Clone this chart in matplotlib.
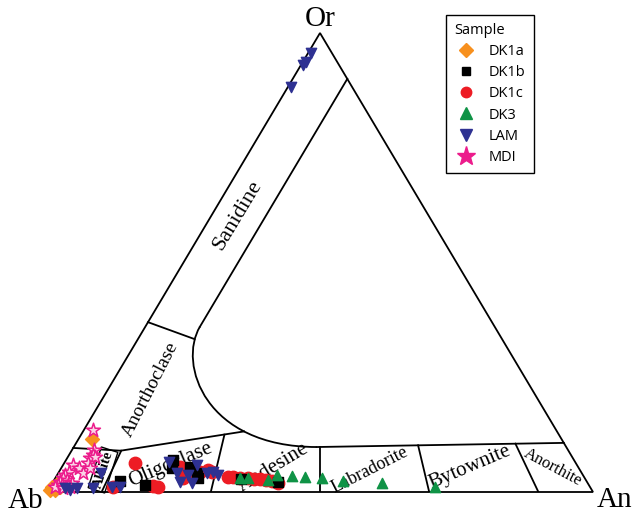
import matplotlib
matplotlib.use("Agg")
import matplotlib.pyplot as plt
from matplotlib.path import Path
from matplotlib.patches import PathPatch
from matplotlib.lines import Line2D
import numpy as np

# feldspar compositions, mol%: An and Or (Ab = 100 - An - Or)
dk1a_an = [2.5, 0.35, 1.25, 0.35, 1.85, 1.0]
dk1a_or = [11.5, 1.1, 0.4, 0.4, 1.1, 2.0]

dk1b_an = [12.2, 17.2, 19.6, 20.3, 23.5, 25.45, 26.2, 34.1, 41.2]
dk1b_or = [2.4, 1.5, 7.0, 5.2, 5.4, 4.1, 3.05, 2.8, 2.2]

dk1c_an = [12.95, 11.55, 18.75, 19.75, 21.7, 23.4, 23.4, 25.8, 27.1, 28.0,
           31.5, 32.45, 33.8, 35.3, 36.5, 37.6, 38.8, 40.0, 41.3]
dk1c_or = [6.3, 1.1, 1.3, 1.1, 5.4, 3.05, 4.4, 4.4, 4.8, 4.4,
           3.3, 3.3, 3.05, 3.05, 2.8, 2.8, 2.6, 2.4, 2.0]

dk3_an = [33.8, 35.3, 39.2, 40.25, 43.15, 45.6, 48.85, 53.0, 60.35, 70.5]
dk3_or = [3.05, 3.05, 2.6, 3.7, 3.5, 3.3, 3.05, 2.4, 2.0, 1.1]

lam_an = [0.55, 0.5, 0.3, 0.6, 2.9, 4.0, 5.0, 8.0, 7.8, 11.35, 12.8,
          19.1, 21.8, 23.3, 24.0, 25.6, 24.5, 27.3, 28.2, 29.5]
lam_or = [95.6, 93.7, 93.0, 88.2, 0.9, 0.4, 0.9, 0.9, 4.1, 1.1, 1.1,
          6.5, 4.1, 2.2, 3.7, 2.0, 5.9, 4.1, 4.4, 3.7]

mdi_an = [1.7, 4.0, 4.35, 4.2, 5.0, 4.35, 1.8, 3.25, 4.55, 5.3, 1.8,
          1.45, 1.4, 2.35, 1.3, 1.25, 2.0, 3.1, 3.6, 0.9, 2.45, 3.65]
mdi_or = [13.5, 9.15, 8.1, 7.4, 7.6, 6.3, 5.9, 5.2, 4.1, 5.2, 4.4,
          3.7, 3.05, 2.6, 2.2, 1.5, 1.5, 1.5, 2.0, 1.1, 0.9, 1.1]

# plagioclase field limits, An/(An+Ab)
plag_ratios = [0.1, 0.3, 0.5, 0.7, 0.9]
plag_top_or = [9.0, 12.5, 9.85, 10.17, 10.52]


def tern(an, orr):
    an = np.asarray(an, dtype=float) / 100.0
    orr = np.asarray(orr, dtype=float) / 100.0
    return an + orr / 2.0, orr


def pix(x, y):
    # reference pixel -> axes data
    return (x - 47) / 546.0, (492 - y) / 459.0


fig = plt.figure(figsize=(6.33, 5.15), dpi=100)
ax = fig.add_axes([47 / 633, 23 / 515, 546 / 633, 459 / 515])
ax.set_xlim(0, 1)
ax.set_ylim(0, 1)
ax.axis("off")

lw = 1.3
# triangle
x, y = tern([0, 100, 0, 0], [0, 0, 100, 0])
ax.plot(x, y, color="black", lw=lw, clip_on=False, solid_joinstyle="miter")

# sanidine inner limit + solvus curve
x, y = tern([10, 10], [90, 36])
ax.plot(x, y, color="black", lw=lw)
cx, cy = tern([10, 10, 24, 44.5], [36, 27.9, 9.8, 9.8])
curve = Path(np.column_stack([cx, cy]),
             [Path.MOVETO, Path.CURVE4, Path.CURVE4, Path.CURVE4])
ax.add_patch(PathPatch(curve, facecolor="none", edgecolor="black", lw=lw))
x, y = tern([44.5, 89.3], [9.8, 10.7])
ax.plot(x, y, color="black", lw=lw)

# anorthoclase limits
x, y = tern([0, 10.4], [37, 33.3])
ax.plot(x, y, color="black", lw=lw)
x, y = tern([0, 9, 29.5], [9.6, 9, 13.2])
ax.plot(x, y, color="black", lw=lw)

# plagioclase divisions
for r, o in zip(plag_ratios, plag_top_or):
    x, y = tern([r * 100, r * (100 - o)], [0, o])
    ax.plot(x, y, color="black", lw=lw)

serif = "Liberation Serif"
labels = [("Sanidine", 238, 215, 59, 16),
          ("Anorthoclase", 150, 390, 63, 14),
          ("Oligoclase", 170, 465, 23, 15),
          ("Andesine", 273, 468, 31, 15),
          ("Labradorite", 370, 470, 27, 13),
          ("Bytownite", 470, 467, 23, 15),
          ("Anorthite", 553, 467, -28, 12)]
for txt, px, py, rot, fs in labels:
    tx, ty = pix(px, py)
    ax.text(tx, ty, txt, rotation=rot, fontsize=fs, family=serif,
            ha="center", va="center", rotation_mode="anchor", zorder=1)

tx, ty = pix(103, 470)
ax.text(tx, ty, "Albite", rotation=72, fontsize=10.5, family=serif, weight="bold",
        ha="center", va="center", rotation_mode="anchor", zorder=1,
        bbox=dict(boxstyle="square,pad=0.15", fc="none", ec="black", lw=1.0))

for txt, px, py in [("Or", 320, 19), ("Ab", 26, 501), ("An", 615, 500)]:
    tx, ty = pix(px, py)
    ax.text(tx, ty, txt, fontsize=21, family=serif, ha="center", va="center",
            clip_on=False)

c_dk1a = "#f7901e"
c_dk1b = "black"
c_dk1c = "#ed1c24"
c_dk3 = "#0f9346"
c_lam = "#2e3192"
c_mdi = "#ec1c8c"

x, y = tern(dk1c_an, dk1c_or)
ax.scatter(x, y, marker="o", s=80, color=c_dk1c, zorder=3, clip_on=False)
x, y = tern(dk1b_an, dk1b_or)
ax.scatter(x, y, marker="s", s=45, color=c_dk1b, zorder=3, clip_on=False)
x, y = tern(dk3_an, dk3_or)
ax.scatter(x, y, marker="^", s=55, color=c_dk3, zorder=4, clip_on=False)
x, y = tern(dk1a_an, dk1a_or)
ax.scatter(x, y, marker="D", s=50, color=c_dk1a, zorder=4, clip_on=False)
x, y = tern(mdi_an, mdi_or)
ax.scatter(x, y, marker="*", s=110, facecolor="#fbd3e6", edgecolor=c_mdi,
           lw=1.1, zorder=5, clip_on=False)
x, y = tern(lam_an, lam_or)
ax.scatter(x, y, marker="v", s=55, color=c_lam, zorder=6, clip_on=False)

handles = [
    Line2D([], [], ls="none", marker="D", ms=7, color=c_dk1a, label="DK1a"),
    Line2D([], [], ls="none", marker="s", ms=6, color=c_dk1b, label="DK1b"),
    Line2D([], [], ls="none", marker="o", ms=7.5, color=c_dk1c, label="DK1c"),
    Line2D([], [], ls="none", marker="^", ms=8, color=c_dk3, label="DK3"),
    Line2D([], [], ls="none", marker="v", ms=8, color=c_lam, label="LAM"),
    Line2D([], [], ls="none", marker="*", ms=14, color=c_mdi, label="MDI"),
]
leg = ax.legend(handles=handles, title="Sample", loc="upper left",
                bbox_to_anchor=(446 / 633, 1 - 15 / 515),
                bbox_transform=fig.transFigure, borderaxespad=0,
                fancybox=False, edgecolor="black", framealpha=1,
                prop={"family": "Open Sans", "size": 10.5},
                title_fontproperties={"family": "Open Sans", "size": 10.5},
                handlelength=1.6, handletextpad=0.8, labelspacing=0.42,
                borderpad=0.55)
leg._legend_box.align = "left"
leg.get_frame().set_linewidth(1.0)

fig.savefig("out.png", dpi=100)
